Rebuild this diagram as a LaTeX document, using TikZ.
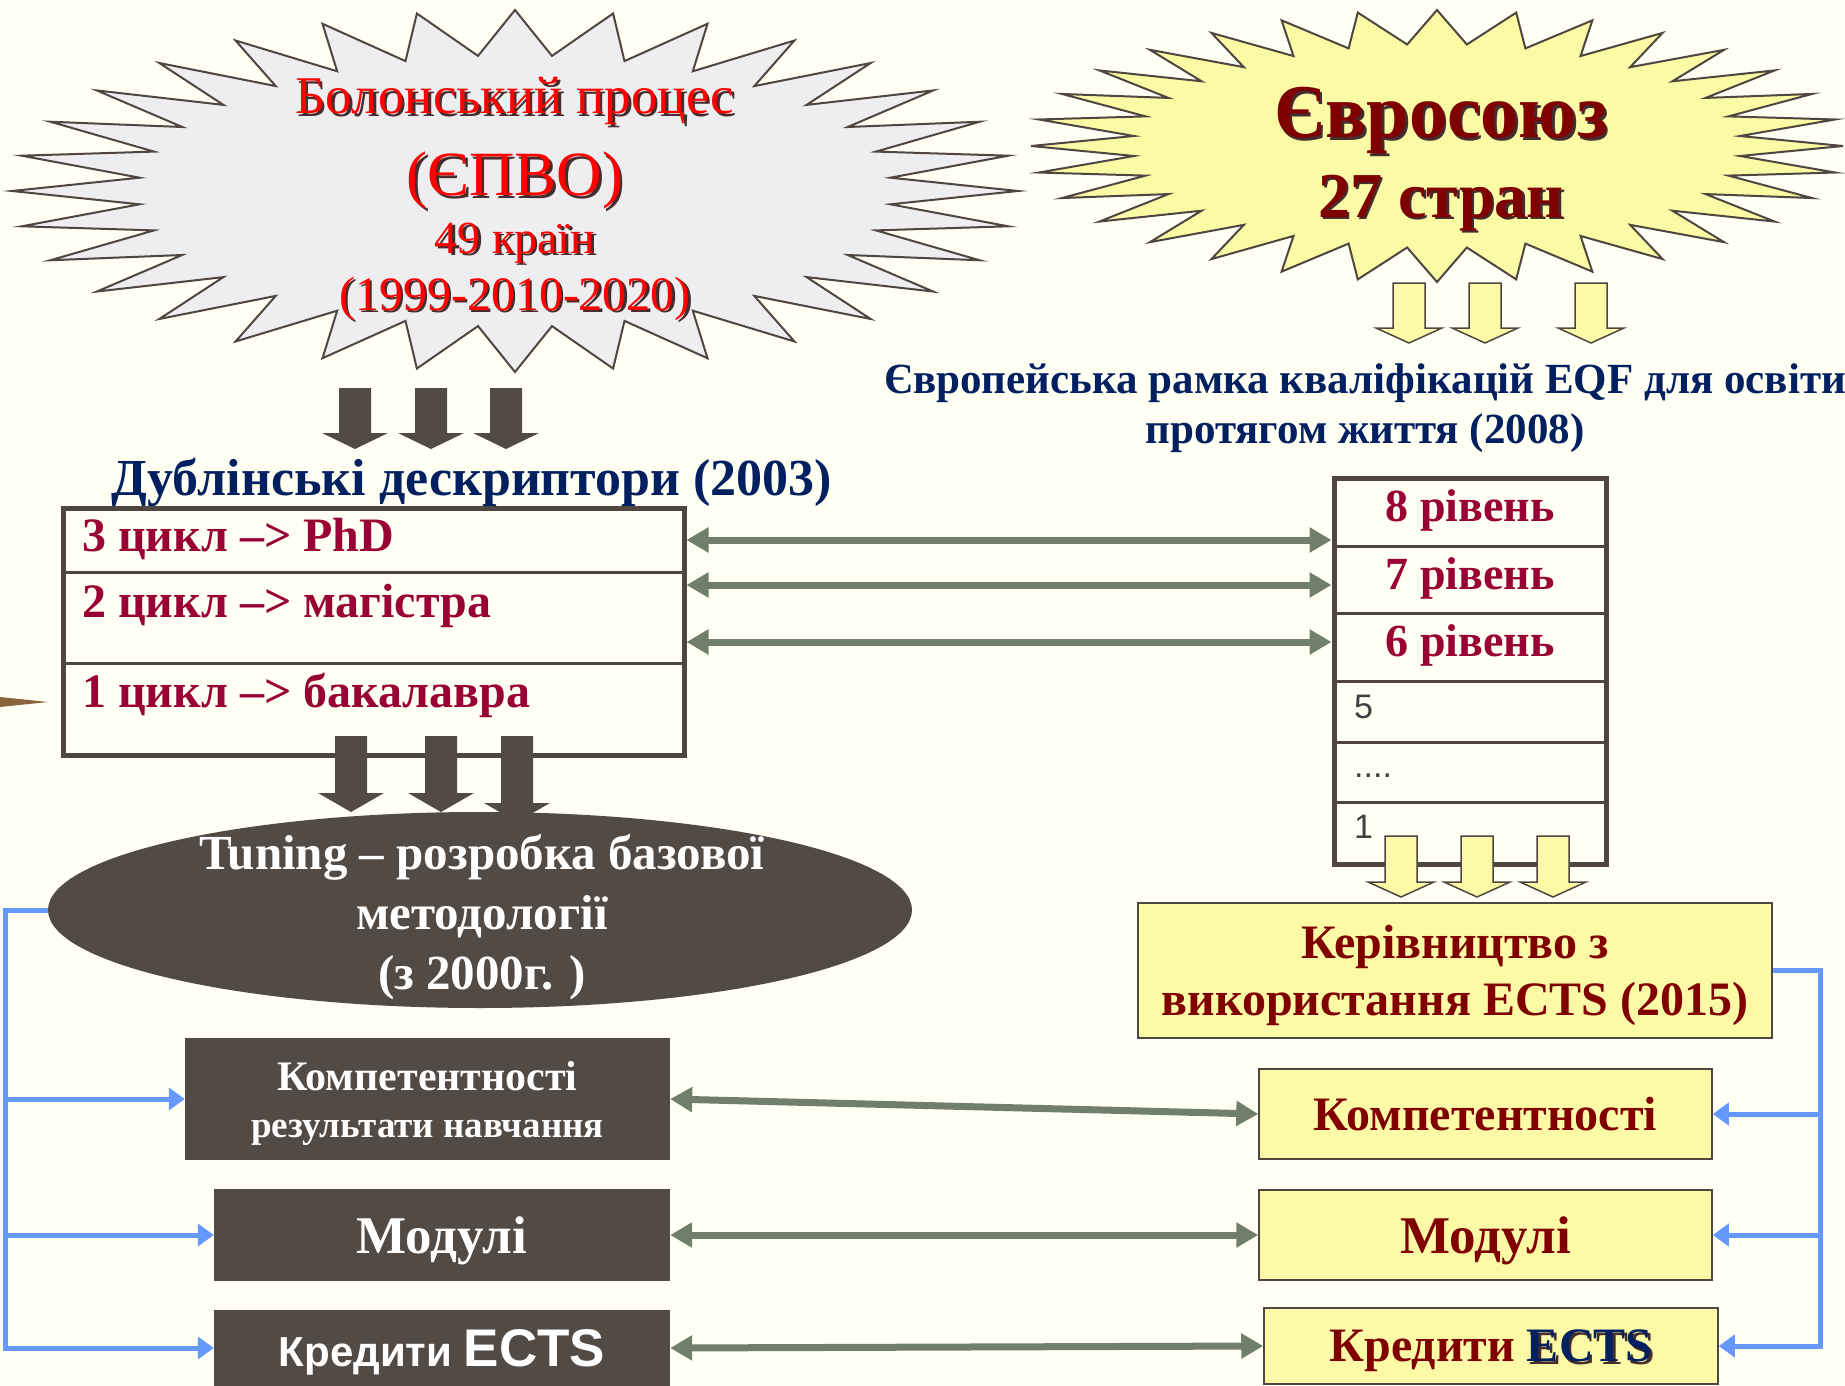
\documentclass[tikz,border=0pt]{standalone}
\usepackage{fontspec}
\setmainfont{Liberation Serif}
\newfontfamily\arialf{Liberation Sans}
\usetikzlibrary{arrows.meta,shapes.geometric}

\definecolor{bgcol}{RGB}{255,255,244}
\definecolor{darkc}{RGB}{82,74,69}
\definecolor{edgec}{RGB}{79,70,65}
\definecolor{starg}{RGB}{238,237,240}
\definecolor{stary}{RGB}{251,250,165}
\definecolor{yelbox}{RGB}{252,250,166}
\definecolor{greenc}{RGB}{111,127,104}
\definecolor{bluec}{RGB}{102,153,255}
\definecolor{crim}{RGB}{153,0,51}
\definecolor{dred}{RGB}{128,0,0}
\definecolor{navy}{RGB}{0,32,96}
\definecolor{redc}{RGB}{255,0,0}
\definecolor{shadc}{RGB}{70,45,45}
\definecolor{grayt}{RGB}{64,64,64}
\definecolor{brownc}{RGB}{140,100,60}

\newcommand{\fsz}[2]{\fontsize{#1}{#2}\selectfont}
\newcommand{\shtxt}[2]{\rlap{\kern2.5pt\raisebox{-2.5pt}{\color{shadc}#2}}{\color{#1}#2}}
\newcommand{\burst}[5]{%
  \filldraw[#1] plot[variable=\q,samples at={0,...,63}]
    ({#2+(1-0.25*mod(\q,2))*#4*cos(-90+\q*5.625)},
     {#3+(1-0.25*mod(\q,2))*#5*sin(-90+\q*5.625)}) -- cycle;}
\newcommand{\blk}[5]{%
  \filldraw[#1] ({#2-16},#3) -- ({#2+16},#3) -- ({#2+16},#4) -- ({#2+33},#4)
    -- (#2,#5) -- ({#2-33},#4) -- ({#2-16},#4) -- cycle;}

\begin{document}
\begin{tikzpicture}[x=1pt,y=-1pt,
  txt/.style={inner sep=0pt,anchor=base},
  darr/.style={fill=darkc,draw=none},
  yarr/.style={fill=yelbox,draw=edgec,line width=1.5pt},
  frame/.style={draw=edgec,line width=5pt,inner sep=0pt},
  sep/.style={draw=edgec,line width=3pt},
  dbox/.style={fill=darkc,text=white,inner sep=0pt,align=center,text depth=0pt},
  ybox/.style={fill=yelbox,draw=edgec,line width=1.5pt,text=dred,inner sep=0pt,align=center,text depth=0pt},
  cyc/.style={txt,anchor=base west,text=crim,font=\fsz{48}{48}\bfseries},
  lvl/.style={txt,text=crim,font=\fsz{46}{46}\bfseries},
  lvs/.style={txt,anchor=base west,text=grayt,font=\arialf\fsz{34}{34}},
  grarr/.style={draw=greenc,line width=7pt,{Triangle[length=22pt,width=24pt]}-{Triangle[length=22pt,width=24pt]}},
  blarr/.style={draw=bluec,line width=5pt,-{Triangle[length=16pt,width=22pt]}}]
\useasboundingbox (0,0) rectangle (1845,1386);
\fill[bgcol] (0,0) rectangle (1845,1386);

\burst{draw=edgec,line width=2pt,fill=starg}{515}{191}{503}{181}
\node[txt,font=\fsz{53}{53}] (bol1) at (515,114) {\shtxt{redc}{Болонський процес}};
\node[txt,font=\fsz{63}{63}] (bol2) at (515,196) {\shtxt{redc}{(ЄПВО)}};
\node[txt,font=\fsz{46}{46}] (bol3) at (515,253) {\shtxt{redc}{49 країн}};
\node[txt,font=\fsz{48}{48}] (bol4) at (515,310) {\shtxt{redc}{(1999-2010-2020)}};

\burst{draw=edgec,line width=2pt,fill=stary}{1437}{146}{406}{136}
\node[txt,font=\fsz{76}{76}\bfseries] (eu1) at (1441,138) {\shtxt{dred}{Євросоюз}};
\node[txt,font=\fsz{64}{64}\bfseries] (eu2) at (1441,217) {\shtxt{dred}{27 стран}};

\blk{darr}{355}{388}{433}{449}
\blk{darr}{431}{388}{433}{449}
\blk{darr}{506}{388}{433}{449}
\blk{yarr}{1409}{283}{328}{343}
\blk{yarr}{1485}{283}{328}{343}
\blk{yarr}{1591}{283}{328}{343}

\node[txt,text=navy,font=\fsz{43}{43}\bfseries] (eqft1) at (1365,393) {Європейська рамка кваліфікацій EQF для освіти};
\node[txt,text=navy,font=\fsz{43}{43}\bfseries] (eqft2) at (1365,443) {протягом життя (2008)};

\node[txt,text=navy,font=\fsz{52}{52}\bfseries] (dubt) at (472,495) {Дублінські дескриптори (2003)};
\node[frame,minimum width=621pt,minimum height=247pt] (dub) at (373.5,631.5) {};
\draw[sep] (dub.west |- 0,572) -- (dub.east |- 0,572);
\draw[sep] (dub.west |- 0,663) -- (dub.east |- 0,663);
\node[cyc] (cy3) at (82,551) {3 цикл –> PhD};
\node[cyc] (cy2) at (82,617) {2 цикл –> магістра};
\node[cyc] (cy1) at (82,707) {1 цикл –> бакалавра};
\fill[brownc] (0,697) -- (48,702) -- (0,707) -- cycle;

\node[frame,minimum width=272pt,minimum height=386pt] (eqf) at (1470,671) {};
\foreach \yy in {546,613,681,742,802}
  \draw[sep] (eqf.west |- 0,\yy) -- (eqf.east |- 0,\yy);
\node[lvl] (l8) at (1470,521) {8 рівень};
\node[lvl] (l7) at (1470,589) {7 рівень};
\node[lvl] (l6) at (1470,656) {6 рівень};
\node[lvs] (l5) at (1354,718) {5};
\node[lvs] (ld) at (1354,777) {....};
\node[lvs] (l1) at (1354,838) {1};

\draw[grarr] (dub.east |- 0,540) -- (eqf.west |- 0,540);
\draw[grarr] (dub.east |- 0,585) -- (eqf.west |- 0,585);
\draw[grarr] (dub.east |- 0,642) -- (eqf.west |- 0,642);

\blk{yarr}{1401}{836}{882}{897}
\blk{yarr}{1477}{836}{882}{897}
\blk{yarr}{1553}{836}{882}{897}

\blk{darr}{351}{736}{793}{812}
\blk{darr}{441}{736}{793}{812}
\blk{darr}{517}{736}{803}{822}
\node[ellipse,fill=darkc,minimum width=864pt,minimum height=196pt,inner sep=0pt] (tun) at (480,910) {};
\node[text=white,font=\fsz{49}{60}\bfseries,align=center] (tunt) at (482,917) {Tuning – розробка базової\\методології\\(з 2000г. )};

\node[dbox,minimum width=485pt,minimum height=122pt,font=\fsz{42}{47}\bfseries] (comp1) at (427.5,1099) {Компетентності\\{\fsz{37}{47}результати навчання}};
\node[dbox,minimum width=456pt,minimum height=92pt,font=\fsz{53}{53}\bfseries] (mod1) at (442,1235) {Модулі};
\node[dbox,minimum width=456pt,minimum height=76pt,font=\arialf\bfseries] (kred1) at (442,1348) {\fsz{42}{42}Кредити \fsz{53}{53}ECTS};

\node[ybox,minimum width=634pt,minimum height=135pt,font=\fsz{48}{57}\bfseries] (ker) at (1455,970.5) {Керівництво з\\використання ECTS (2015)};
\node[ybox,minimum width=453pt,minimum height=90pt,font=\fsz{48}{48}\bfseries] (comp2) at (1485.5,1114) {Компетентності};
\node[ybox,minimum width=453pt,minimum height=90pt,font=\fsz{53}{53}\bfseries] (mod2) at (1485.5,1235) {Модулі};
\node[ybox,minimum width=454pt,minimum height=76pt,font=\fsz{48}{48}\bfseries] (kred2) at (1491,1346) {Кредити \shtxt{navy}{ECTS}};

\coordinate (lb) at (5,1348);
\coordinate (rb) at (1820,1346);
\draw[blarr] (tun.west) -| (lb) -- (kred1.west);
\draw[blarr] (comp1.west -| lb) -- (comp1.west);
\draw[blarr] (mod1.west -| lb) -- (mod1.west);
\draw[blarr] (ker.east) -| (rb) -- (kred2.east);
\draw[blarr] (comp2.east -| rb) -- (comp2.east);
\draw[blarr] (mod2.east -| rb) -- (mod2.east);

\draw[grarr] (comp1.east) -- (comp2.west);
\draw[grarr] (mod1.east) -- (mod2.west);
\draw[grarr] (kred1.east) -- (kred2.west);
\end{tikzpicture}
\end{document}
